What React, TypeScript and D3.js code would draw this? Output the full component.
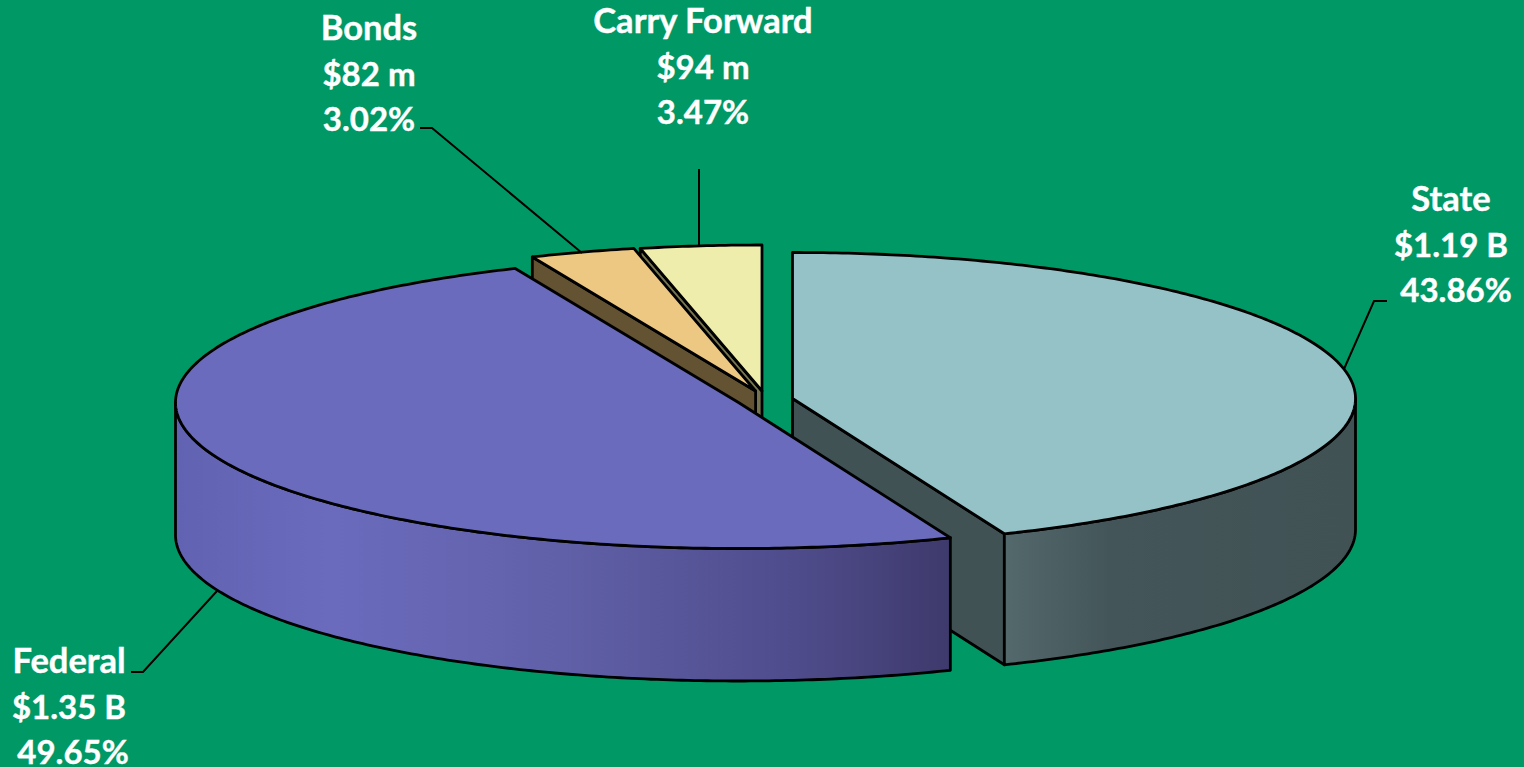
import React from "react";
import * as d3 from "d3";

const categories = ["State", "Federal", "Bonds", "Carry Forward"];
const amounts = ["$1.19 B", "$1.35 B", "$82 m", "$94 m"];
const shares = [43.86, 49.65, 3.02, 3.47];
const topColors = ["#94c2c7", "#6b6bbe", "#edc882", "#eeedab"];
const wallColors = ["#415255", "#3e3a6c", "#645333", "#77754f"];

const W = 1524;
const H = 767;
const RX = 563;
const RY = 146;
const FONT = "Lato, Carlito, Calibri, sans-serif";

const centers = [
  { x: 792.5, y: 398.5 },
  { x: 738.5, y: 402.5 },
  { x: 755.6, y: 391 },
  { x: 762, y: 391 },
];
const depths = [131, 132.5, 131, 131];

const labelLayout = [
  { x: 1451, dx: [0, 0, 5], y: 210 },
  { x: 69, dx: [0, 0, 4], y: 672 },
  { x: 369, dx: [0, 0, 0], y: 39 },
  { x: 703, dx: [0, 0, 0], y: 32 },
];
const rowOffsets = [1, 46.5, 92];
const rowSizes = [34.5, 33, 33];

const leaders = [
  [[1387, 301], [1374, 301], [1344, 369]],
  [[131, 672], [143, 672], [217, 591]],
  [[420, 128], [432, 128], [582, 253]],
  [[699, 169], [699, 246]],
];

type P = [number, number];
const lineGen = d3.line<P>().x((d) => d[0]).y((d) => d[1]);

const arcs = d3
  .pie<number>()
  .sort(null)
  .startAngle(0)
  .endAngle(2 * Math.PI)(shares);

function at(i: number, a: number, dy = 0): P {
  const c = centers[i];
  return [c.x + RX * Math.sin(a), c.y - RY * Math.cos(a) + dy];
}

function sweep(i: number, a0: number, a1: number, dy = 0): P[] {
  const n = Math.max(2, Math.ceil(Math.abs(a1 - a0) * 90));
  return d3.range(n + 1).map((k) => at(i, a0 + ((a1 - a0) * k) / n, dy));
}

function topPath(i: number): string {
  const c = centers[i];
  const a = arcs[i];
  const pts: P[] = [[c.x, c.y], ...sweep(i, a.startAngle, a.endAngle)];
  return lineGen(pts)! + "Z";
}

function cutWall(i: number, angle: number): string {
  const c = centers[i];
  const e = at(i, angle);
  const d = depths[i];
  const pts: P[] = [
    [c.x, c.y],
    e,
    [e[0], e[1] + d],
    [c.x, c.y + d],
  ];
  return lineGen(pts)! + "Z";
}

function outerWall(i: number, a0: number, a1: number): string {
  const pts = [...sweep(i, a0, a1), ...sweep(i, a1, a0, depths[i])];
  return lineGen(pts)! + "Z";
}

const HALF = Math.PI / 2;
const ink = { stroke: "#000", strokeWidth: 2.8, strokeLinejoin: "round" as const };

export default function App() {
  const [state, federal, bonds, carry] = arcs;
  return (
    <svg
      width={W}
      height={H}
      viewBox={`0 0 ${W} ${H}`}
      style={{ position: "absolute", left: 0, top: 0, display: "block" }}
    >
      <defs>
        <linearGradient id="stateSide" gradientUnits="userSpaceOnUse" x1={1005} x2={1355} y1={0} y2={0}>
          <stop offset="0" stopColor="#54696c" />
          <stop offset="0.3" stopColor="#435558" />
          <stop offset="1" stopColor="#415255" />
        </linearGradient>
        <linearGradient id="federalSide" gradientUnits="userSpaceOnUse" x1={175} x2={950} y1={0} y2={0}>
          <stop offset="0" stopColor="#6262b2" />
          <stop offset="0.2" stopColor="#6b6bbe" />
          <stop offset="0.5" stopColor="#6060a8" />
          <stop offset="0.8" stopColor="#4f4c8c" />
          <stop offset="1" stopColor="#3e3a6c" />
        </linearGradient>
      </defs>
      <rect x={0} y={0} width={W} height={H} fill="#009966" />

      {/* Carry Forward */}
      <path d={cutWall(3, carry.startAngle)} fill={wallColors[3]} {...ink} />
      <path d={topPath(3)} fill={topColors[3]} {...ink} />

      {/* Bonds */}
      <path d={cutWall(2, bonds.startAngle)} fill={wallColors[2]} {...ink} />
      <path d={topPath(2)} fill={topColors[2]} {...ink} />

      {/* State */}
      <path d={cutWall(0, state.endAngle)} fill={wallColors[0]} {...ink} />
      <path d={outerWall(0, HALF, state.endAngle)} fill="url(#stateSide)" {...ink} />
      <path d={topPath(0)} fill={topColors[0]} {...ink} />

      {/* Federal */}
      <path d={outerWall(1, federal.startAngle, 3 * HALF)} fill="url(#federalSide)" {...ink} />
      <path d={topPath(1)} fill={topColors[1]} {...ink} />

      {leaders.map((pts, i) => (
        <path key={i} d={lineGen(pts as P[])!} fill="none" stroke="#000" strokeWidth={2} />
      ))}

      {categories.map((c, i) => {
        const l = labelLayout[i];
        const rows = [c, amounts[i], `${shares[i].toFixed(2)}%`];
        return (
          <g key={c}>
            {rows.map((t, k) => (
              <text
                key={k}
                x={l.x + l.dx[k]}
                y={l.y + rowOffsets[k]}
                textAnchor="middle"
                fill="#fff"
                stroke="#fff"
                strokeWidth={0.4}
                fontFamily={FONT}
                fontWeight={700}
                fontSize={rowSizes[k]}
              >
                {t}
              </text>
            ))}
          </g>
        );
      })}
    </svg>
  );
}
